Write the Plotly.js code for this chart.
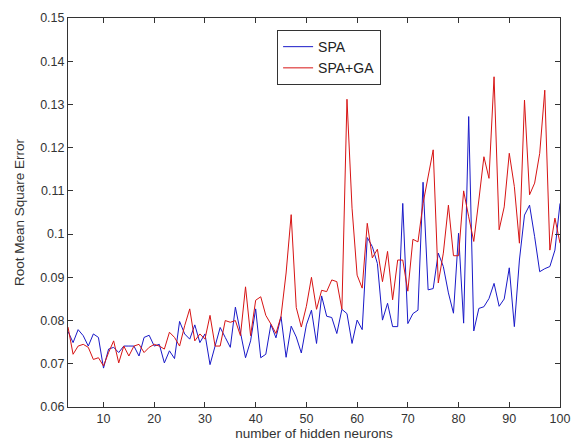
<!DOCTYPE html>
<html>
<head>
<meta charset="utf-8">
<script src="https://cdn.plot.ly/plotly-3.0.1.min.js"></script>
<style>html,body{margin:0;padding:0;background:#fff;}#chart{width:571px;height:448px;}</style>
</head>
<body>
<div id="chart"></div>
<script>
var neurons = [];
for (var n = 3; n <= 100; n++) neurons.push(n);

var spa = [
0.0775,0.0749,0.0779,0.0765,0.0741,0.0769,0.0761,0.0690,0.0734,0.0738,
0.0726,0.0741,0.0741,0.0741,0.0718,0.0761,0.0766,0.0741,0.0745,0.0702,
0.0730,0.0712,0.0798,0.0769,0.0757,0.0790,0.0749,0.0769,0.0698,0.0741,
0.0784,0.0761,0.0738,0.0831,0.0769,0.0714,0.0753,0.0827,0.0714,0.0722,
0.0791,0.0760,0.0809,0.0715,0.0787,0.0762,0.0725,0.0790,0.0824,0.0747,
0.0857,0.0810,0.0807,0.0770,0.0826,0.0816,0.0747,0.0801,0.0779,0.0992,
0.0971,0.0932,0.0801,0.0840,0.0786,0.0786,0.1071,0.0793,0.0816,0.0824,
0.1120,0.0871,0.0874,0.0956,0.0925,0.0864,0.0817,0.1002,0.0794,0.1272,
0.0776,0.0828,0.0832,0.0851,0.0886,0.0833,0.0850,0.0922,0.0786,0.0940,
0.1044,0.1067,0.0994,0.0913,0.0920,0.0925,0.0963,0.1071
];

var spaGa = [
0.0785,0.0722,0.0741,0.0745,0.0738,0.0710,0.0714,0.0695,0.0726,0.0753,
0.0702,0.0741,0.0718,0.0741,0.0745,0.0726,0.0738,0.0745,0.0741,0.0734,
0.0773,0.0761,0.0741,0.0788,0.0827,0.0753,0.0769,0.0757,0.0812,0.0741,
0.0741,0.0800,0.0796,0.0800,0.0765,0.0878,0.0765,0.0847,0.0855,0.0812,
0.0792,0.0770,0.0810,0.0910,0.1045,0.0830,0.0785,0.0833,0.0900,0.0826,
0.0870,0.0867,0.0894,0.0890,0.0826,0.1312,0.1060,0.0905,0.0875,0.1025,
0.0945,0.0965,0.0890,0.0960,0.0848,0.0940,0.0940,0.0868,0.0988,0.0982,
0.1071,0.1133,0.1195,0.0887,0.0956,0.1067,0.0950,0.0950,0.1100,0.1040,
0.0983,0.1079,0.1179,0.1129,0.1364,0.1010,0.1063,0.1187,0.1110,0.0979,
0.1310,0.1091,0.1118,0.1187,0.1333,0.0963,0.1037,0.0979
];

var xTicks = [10,20,30,40,50,60,70,80,90,100];
var yTicks = [0.06,0.07,0.08,0.09,0.1,0.11,0.12,0.13,0.14,0.15];
var yTickText = ['0.06','0.07','0.08','0.09','0.1','0.11','0.12','0.13','0.14','0.15'];

var traces = [
  {x: neurons, y: spa, type: 'scatter', mode: 'lines', name: 'SPA',
   line: {color: 'rgb(25,25,200)', width: 1}},
  {x: neurons, y: spaGa, type: 'scatter', mode: 'lines', name: 'SPA+GA',
   line: {color: 'rgb(215,20,20)', width: 1}}
];

var tickFont = {family: 'Liberation Sans, Arial, sans-serif', size: 12.5, color: '#333'};
var titleFont = {family: 'Liberation Sans, Arial, sans-serif', size: 13.5, color: '#333'};

var layout = {
  width: 571, height: 448,
  paper_bgcolor: '#fff', plot_bgcolor: '#fff',
  margin: {l: 68, r: 11, t: 18, b: 41},
  showlegend: true,
  legend: {
    x: 0.425, y: 0.969, xanchor: 'left', yanchor: 'top',
    bgcolor: '#fff', bordercolor: '#333', borderwidth: 1,
    font: {family: 'Liberation Sans, Arial, sans-serif', size: 14, color: '#222'},
    tracegroupgap: 0
  },
  xaxis: {
    range: [3, 100], tickvals: xTicks, ticks: 'inside', ticklen: 5, tickcolor: '#333',
    showline: true, linecolor: '#333', linewidth: 1, mirror: 'ticks',
    showgrid: false, zeroline: false, tickfont: tickFont,
    title: {text: 'number of hidden neurons', font: titleFont, standoff: 3}
  },
  yaxis: {
    range: [0.06, 0.15], tickvals: yTicks, ticktext: yTickText, ticks: 'inside', ticklen: 5, tickcolor: '#333',
    showline: true, linecolor: '#333', linewidth: 1, mirror: 'ticks',
    showgrid: false, zeroline: false, tickfont: tickFont,
    title: {text: 'Root Mean Square Error', font: titleFont, standoff: 12}
  }
};

Plotly.newPlot('chart', traces, layout, {displayModeBar: false, staticPlot: true});
</script>
</body>
</html>
